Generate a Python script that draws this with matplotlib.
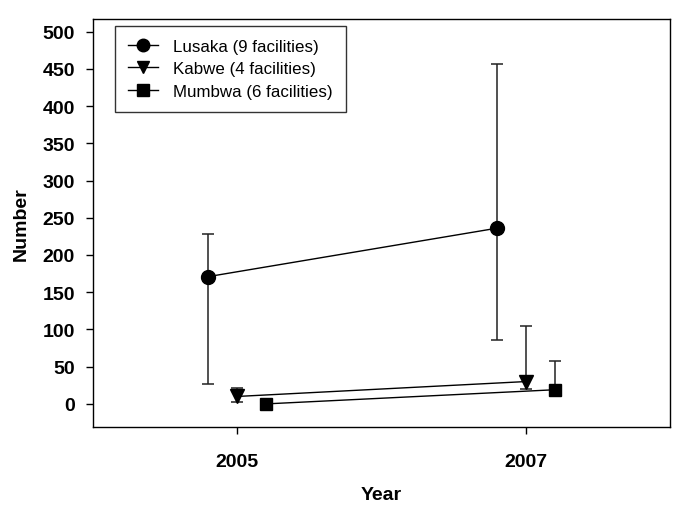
import matplotlib
matplotlib.use("Agg")
import matplotlib.pyplot as plt
import numpy as np

plt.rcParams["font.family"] = ["Liberation Sans", "DejaVu Sans"]

# values
years = [2005, 2007]
offsets = {"Lusaka": -0.2, "Kabwe": 0.0, "Mumbwa": 0.2}
labels = ["Lusaka (9 facilities)", "Kabwe (4 facilities)", "Mumbwa (6 facilities)"]
markers = ["o", "v", "s"]
marker_sizes = [10, 10, 9]

lusaka_mean = [171, 236]
lusaka_low = [27, 86]
lusaka_high = [228, 456]

kabwe_mean = [10, 30]
kabwe_low = [3, 20]
kabwe_high = [22, 105]

mumbwa_mean = [0, 19]
mumbwa_low = [0, 19]
mumbwa_high = [0, 57]

series = [
    ("Lusaka", lusaka_mean, lusaka_low, lusaka_high),
    ("Kabwe", kabwe_mean, kabwe_low, kabwe_high),
    ("Mumbwa", mumbwa_mean, mumbwa_low, mumbwa_high),
]

fig = plt.figure(figsize=(6.85, 5.06), dpi=100)
ax = fig.add_axes([0.1358, 0.1542, 0.8423, 0.8063])

for (name, mean, low, high), label, marker, ms in zip(series, labels, markers, marker_sizes):
    x = np.array(years) + offsets[name]
    mean = np.array(mean)
    yerr = [mean - np.array(low), np.array(high) - mean]
    ax.errorbar(x, mean, yerr=yerr, fmt="none", ecolor="#222222", elinewidth=1.1,
                capsize=4, capthick=1.1, zorder=2)
    ax.plot(x, mean, color="black", lw=1.0, marker=marker, markersize=ms,
            markerfacecolor="black", markeredgecolor="black", label=label, zorder=3)

ax.set_xlim(2004, 2008)
ax.set_ylim(-31, 517)
ax.set_xticks(years)
ax.set_yticks(np.arange(0, 501, 50))
ax.tick_params(direction="out", length=5, width=1, top=False, right=False)
ax.tick_params(axis="x", pad=14)
ax.tick_params(axis="y", pad=8)
for lab in ax.get_xticklabels() + ax.get_yticklabels():
    lab.set_fontsize(14)
    lab.set_fontweight("bold")
for sp in ax.spines.values():
    sp.set_linewidth(1)

ax.set_xlabel("Year", fontsize=14, fontweight="bold", labelpad=11)
ax.set_ylabel("Number", fontsize=14, fontweight="bold", labelpad=9)

leg = ax.legend(loc="upper left", bbox_to_anchor=(0.038, 0.983), borderaxespad=0,
                fontsize=12.2, frameon=True, fancybox=False, edgecolor="black",
                handlelength=1.8, handletextpad=0.9, labelspacing=0.45,
                borderpad=0.75, markerscale=0.9)
leg.get_frame().set_linewidth(1)

fig.savefig("out.png", dpi=100, facecolor="white")
